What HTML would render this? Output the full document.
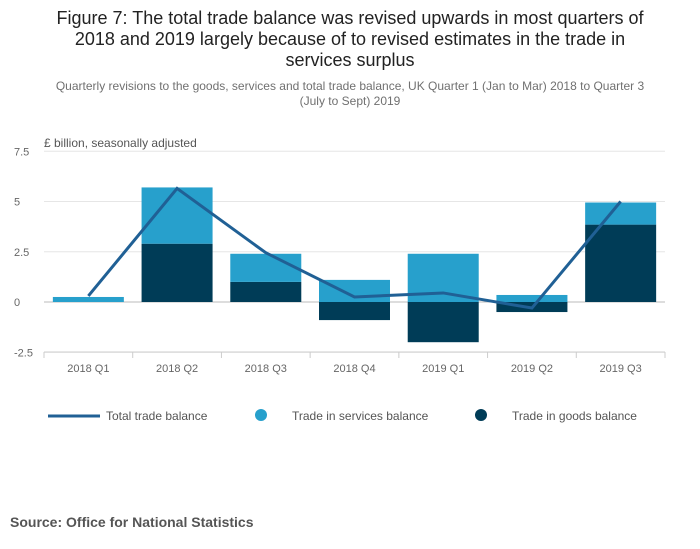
<!DOCTYPE html>
<html><head><meta charset="utf-8"><style>
body{margin:0;background:#fff;font-family:"Liberation Sans",sans-serif;}
#wrap{position:relative;width:700px;height:549px;overflow:hidden}
</style></head><body>
<div id="wrap">
<svg id="chart" width="700" height="549" xmlns="http://www.w3.org/2000/svg">
<text x="350" y="24" text-anchor="middle" font-size="18" fill="#222">Figure 7: The total trade balance was revised upwards in most quarters of</text>
<text x="350" y="45" text-anchor="middle" font-size="18" fill="#222">2018 and 2019 largely because of to revised estimates in the trade in</text>
<text x="350" y="66" text-anchor="middle" font-size="18" fill="#222">services surplus</text>
<text x="350" y="90" text-anchor="middle" font-size="12" fill="#707070">Quarterly revisions to the goods, services and total trade balance, UK Quarter 1 (Jan to Mar) 2018 to Quarter 3</text>
<text x="350" y="105" text-anchor="middle" font-size="12" fill="#707070">(July to Sept) 2019</text>
<text x="44" y="147" font-size="12" fill="#555">£ billion, seasonally adjusted</text>
<g id="grid"></g><g id="bars"></g><g id="line"></g><g id="xaxis"></g>
<g>
<line x1="48" y1="416" x2="100" y2="416" stroke="#206095" stroke-width="3"/>
<text x="106" y="420" font-size="12" fill="#555">Total trade balance</text>
<circle cx="261" cy="415" r="6" fill="#27a0cc"/>
<text x="292" y="420" font-size="12" fill="#555">Trade in services balance</text>
<circle cx="481" cy="415" r="6" fill="#003c57"/>
<text x="512" y="420" font-size="12" fill="#555">Trade in goods balance</text>
</g>
<text x="10" y="527" font-size="14" font-weight="bold" fill="#555">Source: Office for National Statistics</text>
</svg></div>
<script>
const categories=["2018 Q1","2018 Q2","2018 Q3","2018 Q4","2019 Q1","2019 Q2","2019 Q3"];
const goods=[0,2.9,1.0,-0.9,-2.0,-0.5,3.85];
const services=[0.25,2.8,1.4,1.1,2.4,0.35,1.1];
const total=[0.3,5.65,2.45,0.25,0.45,-0.3,5.0];
const yTicks=[7.5,5,2.5,0,-2.5];
const yTickLabels=["7.5","5","2.5","0","-2.5"];
const NS="http://www.w3.org/2000/svg";
const L=44,R=665,step=(R-L)/categories.length,bw=71;
const y=v=>302-v*20.1;
const x=i=>L+step*(i+0.5);
function mk(p,t,a){const e=document.createElementNS(NS,t);for(const k in a)e.setAttribute(k,a[k]);document.getElementById(p).appendChild(e);return e;}
yTicks.forEach((v,i)=>{
 const l=mk('grid','line',{x1:L,x2:R,y1:y(v),y2:y(v),stroke:v===0?'#bbb':'#e6e6e6'});
 
 
 const t=mk('grid','text',{x:14,y:y(v)+4,'font-size':11,fill:'#666'});t.textContent=yTickLabels[i];
 
 
});
const ax=mk('xaxis','line',{x1:L,x2:R,y1:352,y2:352,stroke:'#ccc'});


for(let i=0;i<=categories.length;i++){const tk=mk('xaxis','line',{x1:L+step*i,x2:L+step*i,y1:352,y2:358,stroke:'#ccc'});
 
 }
categories.forEach((c,i)=>{
 const t=mk('xaxis','text',{x:x(i),y:372,'text-anchor':'middle','font-size':11,fill:'#666'});t.textContent=c;
 
 
 const g=goods[i],s=services[i];
 let gp=g>=0?0:null;
 const gb=mk('bars','rect',{x:x(i)-bw/2,width:bw,y:Math.min(y(0),y(g)),height:Math.abs(y(g)-y(0)),fill:'#003c57'});
 
 
 const base=g>0?g:0;
 const sb=mk('bars','rect',{x:x(i)-bw/2,width:bw,y:Math.min(y(base),y(base+s)),height:Math.abs(y(base+s)-y(base)),fill:'#27a0cc'});
 
 
});
const pl=mk('line','polyline',{points:total.map((v,i)=>x(i)+','+y(v)).join(' '),fill:'none',stroke:'#206095','stroke-width':3});


</script>
</body></html>
